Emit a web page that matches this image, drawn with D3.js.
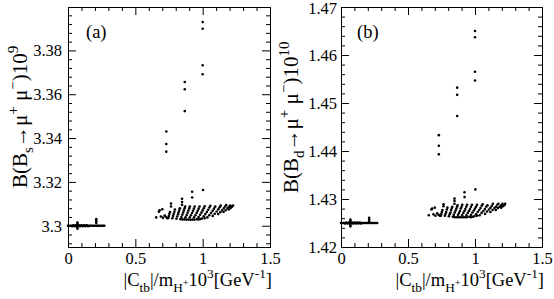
<!DOCTYPE html>
<html>
<head>
<meta charset="utf-8">
<script src="https://cdn.jsdelivr.net/npm/d3@7"></script>
<style>
  body { margin: 0; background: #fff; }
  svg { display: block; font-family: "Liberation Serif", "Times New Roman", serif; }
</style>
</head>
<body>
<div id="canvas"></div>
<script>
// ---- data ----
// x value |C_tb|/m_H+ * 10^3 is shared by both panels, y is B(Bs->mumu)*1e9 and B(Bd->mumu)*1e10

// band at small |C_tb|
const lowCtb = [0.00,0.01,0.02,0.03,0.04,0.05,0.06,0.07,0.08,0.09,0.10,0.11,0.12,0.13,0.14,0.15,0.16,0.17,0.18,0.19,0.20,0.21,0.22,0.23,0.24,0.25,0.26,0.27,
  0.03,0.05,0.07,0.09,0.11,0.13,0.15,
  0.04,0.06,0.08,0.10,0.12,0.14,
  0.07,0.07,0.07,0.07,
  0.21,0.21,0.21];
const lowBs = [3.3000,3.3000,3.3000,3.3000,3.3000,3.3000,3.3000,3.3000,3.3000,3.3000,3.3000,3.3000,3.3000,3.3000,3.3000,3.3000,3.3000,3.3000,3.3000,3.3000,3.3000,3.3000,3.3000,3.3000,3.3000,3.3000,3.3000,3.3000,
  3.2998,3.2998,3.2998,3.2998,3.2998,3.2998,3.2998,
  3.3002,3.3002,3.3002,3.3002,3.3002,3.3002,
  3.2986,3.2991,3.3009,3.3014,
  3.3012,3.3021,3.3030];
const lowBd = [1.4250,1.4250,1.4250,1.4250,1.4250,1.4250,1.4250,1.4250,1.4250,1.4250,1.4250,1.4250,1.4250,1.4250,1.4250,1.4250,1.4250,1.4250,1.4250,1.4250,1.4250,1.4250,1.4250,1.4250,1.4250,1.4250,1.4250,1.4250,
  1.4249,1.4249,1.4249,1.4249,1.4249,1.4249,1.4249,
  1.4251,1.4251,1.4251,1.4251,1.4251,1.4251,
  1.4243,1.4246,1.4254,1.4257,
  1.4253,1.4257,1.4261];

// isolated high points
const spikeCtb = [0.730,0.730,0.730,0.867,0.867,0.867,1.000,1.000,1.000,1.000];
const spikeBs = [3.3430,3.3373,3.3338,3.3656,3.3623,3.3523,3.3929,3.3899,3.3732,3.3691];
const spikeBd = [1.4433,1.4411,1.4393,1.4532,1.4517,1.4473,1.4650,1.4637,1.4565,1.4547];

// dots just above the fan
const capCtb = [0.765,0.765,0.847,0.847,0.847,0.922,0.922,1.003];
const capBs = [3.3088,3.3101,3.3095,3.3108,3.3123,3.3129,3.3155,3.3163];
const capBd = [1.4285,1.4289,1.4290,1.4296,1.4301,1.4304,1.4314,1.4320];

// loose points at the left end of the fan
const edgeCtb = [0.655,0.675,0.680,0.690,0.700,0.705,0.718,0.728,0.738];
const edgeBs = [3.3038,3.3064,3.3070,3.3042,3.3075,3.3036,3.3046,3.3040,3.3034];
const edgeBd = [1.4266,1.4278,1.4280,1.4268,1.4282,1.4265,1.4270,1.4267,1.4265];

// dense base under the fan
const baseCtb = [0.850,0.880,0.910,0.940,0.970,0.985,1.015];
const baseBs = [3.3029,3.3028,3.3027,3.3027,3.3029,3.3031,3.3034];
const baseBd = [1.4262,1.4262,1.4262,1.4262,1.4262,1.4263,1.4265];

// the fan of short slanted strokes
const fanCtb = [
  0.745,0.749,0.753,0.757,
  0.775,0.780,0.785,0.790,0.794,
  0.805,0.811,0.817,0.822,0.827,0.831,
  0.835,0.842,0.849,0.855,0.861,0.866,0.870,
  0.865,0.873,0.881,0.888,0.894,0.900,0.905,
  0.895,0.904,0.913,0.921,0.928,0.935,0.941,
  0.925,0.936,0.946,0.955,0.963,0.970,0.977,
  0.958,0.970,0.981,0.991,1.000,1.008,1.015,
  0.995,1.008,1.020,1.031,1.041,1.050,1.057,
  1.035,1.049,1.062,1.074,1.084,1.093,
  1.075,1.090,1.104,1.116,1.126,1.134,
  1.115,1.131,1.145,1.157,1.167,1.175,
  1.155,1.171,1.185,1.196,1.205,
  1.195,1.208,1.218,1.225];
const fanBs = [
  3.3036,3.3045,3.3054,3.3063,
  3.3034,3.3044,3.3054,3.3064,3.3074,
  3.3032,3.3042,3.3052,3.3062,3.3072,3.3080,
  3.3030,3.3040,3.3050,3.3060,3.3070,3.3080,3.3087,
  3.3029,3.3039,3.3049,3.3059,3.3069,3.3079,3.3088,
  3.3028,3.3038,3.3048,3.3058,3.3068,3.3078,3.3088,
  3.3028,3.3038,3.3048,3.3058,3.3068,3.3078,3.3088,
  3.3030,3.3040,3.3050,3.3060,3.3070,3.3080,3.3089,
  3.3033,3.3043,3.3053,3.3063,3.3073,3.3083,3.3091,
  3.3038,3.3048,3.3058,3.3068,3.3078,3.3087,
  3.3045,3.3055,3.3065,3.3075,3.3084,3.3092,
  3.3053,3.3062,3.3071,3.3080,3.3088,3.3094,
  3.3063,3.3071,3.3079,3.3086,3.3092,
  3.3074,3.3081,3.3087,3.3092];
const fanBd = [
  1.4265,1.4269,1.4273,1.4277,
  1.4265,1.4269,1.4273,1.4278,1.4282,
  1.4264,1.4268,1.4272,1.4277,1.4281,1.4284,
  1.4263,1.4267,1.4272,1.4276,1.4280,1.4284,1.4287,
  1.4262,1.4267,1.4271,1.4275,1.4280,1.4284,1.4288,
  1.4262,1.4266,1.4271,1.4275,1.4279,1.4284,1.4288,
  1.4262,1.4266,1.4271,1.4275,1.4279,1.4284,1.4288,
  1.4263,1.4267,1.4272,1.4276,1.4280,1.4284,1.4288,
  1.4264,1.4268,1.4273,1.4277,1.4281,1.4286,1.4289,
  1.4266,1.4271,1.4275,1.4279,1.4284,1.4287,
  1.4269,1.4274,1.4278,1.4282,1.4286,1.4290,
  1.4273,1.4277,1.4281,1.4284,1.4288,1.4290,
  1.4277,1.4281,1.4284,1.4287,1.4290,
  1.4282,1.4285,1.4287,1.4290];

// tick values
const xMajor = [0, 0.5, 1, 1.5];
const xMinor = [0.1,0.2,0.3,0.4,0.6,0.7,0.8,0.9,1.1,1.2,1.3,1.4];
const bsMajor = [3.30, 3.32, 3.34, 3.36, 3.38];
const bsMinor = [3.292,3.296,3.304,3.308,3.312,3.316,3.324,3.328,3.332,3.336,3.344,3.348,3.352,3.356,3.364,3.368,3.372,3.376,3.384,3.388,3.392,3.396];
const bdMajor = [1.42, 1.43, 1.44, 1.45, 1.46, 1.47];
const bdMinor = [1.422,1.424,1.426,1.428,1.432,1.434,1.436,1.438,1.442,1.444,1.446,1.448,1.452,1.454,1.456,1.458,1.462,1.464,1.466,1.468];

const width = 554;
const height = 299;

const svg = d3.select("#canvas").append("svg")
  .attr("width", width)
  .attr("height", height);

const zip = (xs, ys) => xs.map((v, i) => ({ x: v, y: ys[i] }));

// writes a string made of normal / sub / sup pieces
const richText = (text, parts, size) => {
  let cur = 0;
  parts.forEach(([s, kind]) => {
    let off = 0, fs = size;
    if (kind === "sub") { off = 0.3; fs = size * 0.72; }
    if (kind === "sup") { off = -0.42; fs = size * 0.72; }
    if (kind === "hsup") { off = 0.02; fs = size * 0.55; }
    text.append("tspan")
      .attr("dy", (off - cur) * size)
      .attr("font-size", fs)
      .text(s);
    cur = off;
  });
};

const fmtX = d3.format(".1~f");
const fmtY = d3.format(".2~f");

const drawPanel = (cfg) => {
  const x = d3.scaleLinear().domain([0, 1.5]).range([cfg.left, cfg.right]);
  const y = d3.scaleLinear().domain(cfg.yDomain).range([cfg.bottom, cfg.top]);
  const g = svg.append("g");

  const addAxis = (axis, tr) => {
    const a = g.append("g").attr("transform", tr).call(axis);
    a.select(".domain").remove();
    a.attr("font-family", null).attr("font-size", 16.5);
    return a;
  };

  addAxis(d3.axisBottom(x).tickValues(xMajor).tickSize(-8).tickPadding(5).tickFormat(fmtX), `translate(0,${cfg.bottom})`);
  addAxis(d3.axisBottom(x).tickValues(xMinor).tickSize(-4).tickFormat(""), `translate(0,${cfg.bottom})`);
  addAxis(d3.axisTop(x).tickValues(xMajor).tickSize(-8).tickFormat(""), `translate(0,${cfg.top})`);
  addAxis(d3.axisTop(x).tickValues(xMinor).tickSize(-4).tickFormat(""), `translate(0,${cfg.top})`);
  const yl = addAxis(d3.axisLeft(y).tickValues(cfg.yMajor).tickSize(-8).tickPadding(cfg.pad).tickFormat(fmtY), `translate(${cfg.left},0)`);
  // keep a label sitting on the top edge inside the picture
  yl.selectAll("text").filter((d) => y(d) < cfg.top + 2).attr("dy", "0.42em");
  addAxis(d3.axisLeft(y).tickValues(cfg.yMinor).tickSize(-4).tickFormat(""), `translate(${cfg.left},0)`);
  addAxis(d3.axisRight(y).tickValues(cfg.yMajor).tickSize(-8).tickFormat(""), `translate(${cfg.right},0)`);
  addAxis(d3.axisRight(y).tickValues(cfg.yMinor).tickSize(-4).tickFormat(""), `translate(${cfg.right},0)`);

  g.append("rect")
    .attr("x", cfg.left + 0.5)
    .attr("y", cfg.top + 0.5)
    .attr("width", cfg.right - cfg.left)
    .attr("height", cfg.bottom - cfg.top)
    .attr("fill", "none")
    .attr("stroke", "#000")
    .attr("stroke-width", 1);

  g.append("g")
    .selectAll("circle")
    .data(cfg.points)
    .enter()
    .append("circle")
    .attr("cx", (d) => x(d.x))
    .attr("cy", (d) => y(d.y))
    .attr("r", 1.3)
    .attr("fill", "#000");

  g.append("text")
    .attr("x", cfg.tag[1])
    .attr("y", cfg.tag[2])
    .attr("font-size", 18.5)
    .text(cfg.tag[0]);

  const xt = g.append("text")
    .attr("x", cfg.right + 2)
    .attr("y", 286)
    .attr("text-anchor", "end")
    .attr("font-size", 18.5);
  richText(xt, [["|C", "n"], ["tb", "sub"], ["|/m", "n"], ["H", "sub"], ["+", "hsup"], ["10", "n"], ["3", "sup"], ["[GeV", "n"], ["-1", "sup"], ["]", "n"]], 18.5);

  const yt = g.append("text")
    .attr("transform", `translate(${cfg.ytx},${cfg.yty}) rotate(-90)`)
    .attr("font-size", 21);
  richText(yt, cfg.ytitle, 21);
};

drawPanel({
  left: 68, right: 270, top: 7, bottom: 247,
  yDomain: [3.2903, 3.3998],
  yMajor: bsMajor, yMinor: bsMinor, pad: 6,
  tag: ["(a)", 86, 37.5],
  ytx: 26.5, yty: 188,
  ytitle: [["B(B", "n"], ["s", "sub"], ["\u2192", "n"], ["\u03bc", "n"], ["+", "sup"], [" \u03bc", "n"], ["\u2212", "sup"], [")10", "n"], ["9", "sup"]],
  points: [].concat(zip(lowCtb, lowBs), zip(edgeCtb, edgeBs), zip(baseCtb, baseBs), zip(fanCtb, fanBs), zip(capCtb, capBs), zip(spikeCtb, spikeBs))
});

drawPanel({
  left: 341, right: 542, top: 7, bottom: 247,
  yDomain: [1.42, 1.47],
  yMajor: bdMajor, yMinor: bdMinor, pad: 4,
  tag: ["(b)", 357, 38],
  ytx: 298, yty: 193,
  ytitle: [["B(B", "n"], ["d", "sub"], ["\u2192", "n"], ["\u03bc", "n"], ["+", "sup"], [" \u03bc", "n"], ["\u2212", "sup"], [")10", "n"], ["10", "sup"]],
  points: [].concat(zip(lowCtb, lowBd), zip(edgeCtb, edgeBd), zip(baseCtb, baseBd), zip(fanCtb, fanBd), zip(capCtb, capBd), zip(spikeCtb, spikeBd))
});
</script>
</body>
</html>
